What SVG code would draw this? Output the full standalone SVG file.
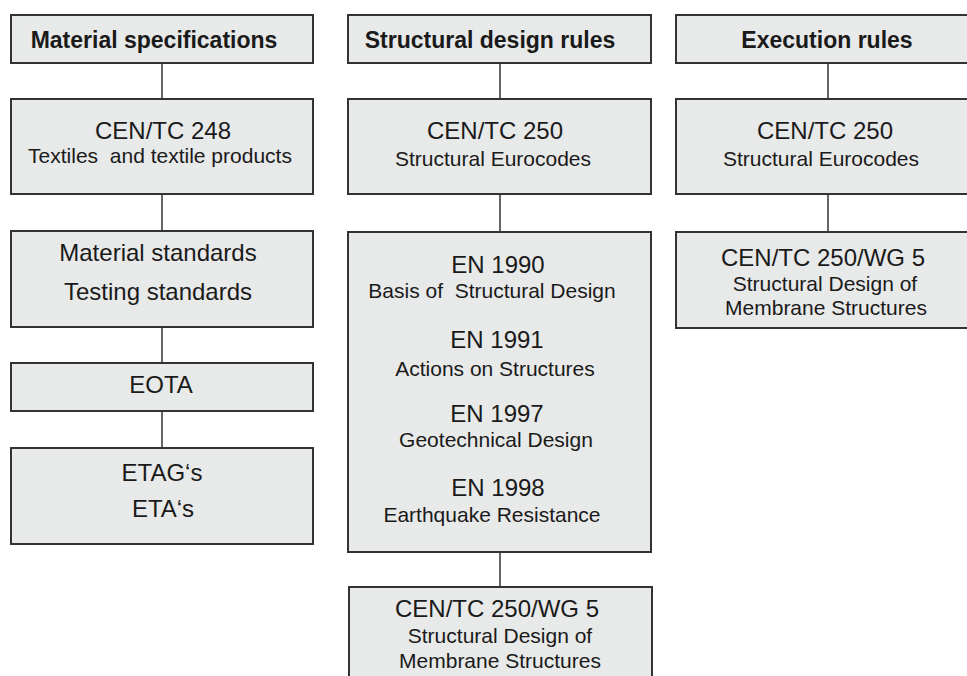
<svg xmlns="http://www.w3.org/2000/svg" width="967" height="676" viewBox="0 0 967 676">
<style>
.box{fill:#e8e9e9;stroke:#333;stroke-width:2}
.con{stroke:#333;stroke-width:1.5;fill:none}
text{font-family:"Liberation Sans",Arial,sans-serif;fill:#1a1a1a;text-anchor:middle}
.h{font-weight:bold;font-size:23px}
.m{font-size:24px}
.s{font-size:21px}
</style>
<rect width="967" height="676" fill="#fff"/>
<g id="connectors">
<line class="con" x1="162" y1="63" x2="162" y2="99"/>
<line class="con" x1="162" y1="194" x2="162" y2="231"/>
<line class="con" x1="162" y1="327" x2="162" y2="363"/>
<line class="con" x1="162" y1="411" x2="162" y2="448"/>
<line class="con" x1="500" y1="63" x2="500" y2="99"/>
<line class="con" x1="500" y1="194" x2="500" y2="232"/>
<line class="con" x1="500" y1="552" x2="500" y2="587"/>
<line class="con" x1="828" y1="63" x2="828" y2="99"/>
<line class="con" x1="828" y1="194" x2="828" y2="232"/>
</g>
<g id="mat-head"><rect class="box" x="11" y="15" width="302" height="48"/><text class="h" x="154" y="48">Material specifications</text></g>
<g id="cen248"><rect class="box" x="11" y="99" width="302" height="95"/><text class="m" x="163" y="139">CEN/TC 248</text><text class="s" x="160" y="163" xml:space="preserve">Textiles  and textile products</text></g>
<g id="matstd"><rect class="box" x="11" y="231" width="302" height="96"/><text class="m" x="158" y="261">Material standards</text><text class="m" x="158" y="300">Testing standards</text></g>
<g id="eota"><rect class="box" x="11" y="363" width="302" height="48"/><text class="m" x="161" y="393">EOTA</text></g>
<g id="etag"><rect class="box" x="11" y="448" width="302" height="96"/><text class="m" x="162" y="481">ETAG‘s</text><text class="m" x="163" y="517">ETA‘s</text></g>
<g id="str-head"><rect class="box" x="348" y="15" width="303" height="48"/><text class="h" x="490" y="48">Structural design rules</text></g>
<g id="cen250-mid"><rect class="box" x="348" y="99" width="303" height="95"/><text class="m" x="495" y="139">CEN/TC 250</text><text class="s" x="493" y="166">Structural Eurocodes</text></g>
<g id="en-box"><rect class="box" x="348" y="232" width="303" height="320"/>
<text class="m" x="498" y="273">EN 1990</text><text class="s" x="492" y="298" xml:space="preserve">Basis of  Structural Design</text>
<text class="m" x="497" y="348">EN 1991</text><text class="s" x="495" y="376">Actions on Structures</text>
<text class="m" x="497" y="422">EN 1997</text><text class="s" x="496" y="447">Geotechnical Design</text>
<text class="m" x="498" y="496">EN 1998</text><text class="s" x="492" y="522">Earthquake Resistance</text></g>
<g id="wg5-mid"><rect class="box" x="349" y="587" width="303" height="100"/><text class="m" x="497" y="617">CEN/TC 250/WG 5</text><text class="s" x="500" y="643">Structural Design of</text><text class="s" x="500" y="668">Membrane Structures</text></g>
<g id="exe-head"><rect class="box" x="676" y="15" width="303" height="48"/><text class="h" x="827" y="48">Execution rules</text></g>
<g id="cen250-right"><rect class="box" x="676" y="99" width="303" height="95"/><text class="m" x="825" y="139">CEN/TC 250</text><text class="s" x="821" y="166">Structural Eurocodes</text></g>
<g id="wg5-right"><rect class="box" x="676" y="232" width="303" height="96"/><text class="m" x="823" y="266">CEN/TC 250/WG 5</text><text class="s" x="825" y="291">Structural Design of</text><text class="s" x="826" y="315">Membrane Structures</text></g>
</svg>
